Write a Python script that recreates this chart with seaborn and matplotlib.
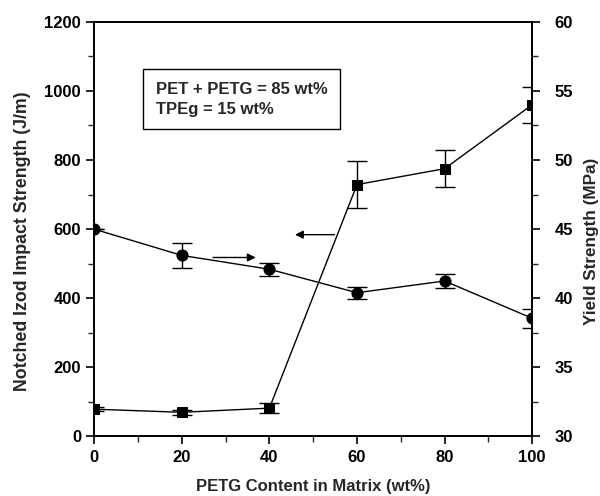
import matplotlib
matplotlib.use("Agg")
import matplotlib.pyplot as plt
import seaborn as sns
import numpy as np
import pandas as pd

petg = [0, 20, 40, 60, 80, 100]
impact = [79, 70, 82, 729, 775, 960]
impact_err = [6, 8, 15, 68, 54, 52]
yield_strength = [45.0, 43.1, 42.1, 40.4, 41.25, 38.55]
yield_err = [0.0, 0.9, 0.46, 0.42, 0.5, 0.67]

sns.set_theme(style="ticks")
plt.rcParams['font.family'] = ['Liberation Sans', 'DejaVu Sans']
plt.rcParams['font.weight'] = 'bold'

fig = plt.figure(figsize=(6, 4.96), dpi=100)
ax = fig.add_axes([0.157, 0.12, 0.73, 0.836])
ax2 = ax.twinx()

df = pd.DataFrame({"x": petg, "impact": impact, "ys": yield_strength})

sns.lineplot(data=df, x="x", y="impact", ax=ax, color="black", marker="s",
             markersize=7, linewidth=1.0, markeredgecolor="black")
ax.errorbar(petg, impact, yerr=impact_err, fmt="none", ecolor="black",
            elinewidth=1.0, capsize=7, capthick=1.0)

sns.lineplot(data=df, x="x", y="ys", ax=ax2, color="black", marker="o",
             markersize=8, linewidth=1.0, markeredgecolor="black")
ax2.errorbar(petg, yield_strength, yerr=yield_err, fmt="none", ecolor="black",
             elinewidth=1.0, capsize=7, capthick=1.0)

ax.set_xlim(0, 100)
ax.set_ylim(0, 1200)
ax2.set_ylim(30, 60)
ax.set_xticks([0, 20, 40, 60, 80, 100])
ax.set_xticks(np.arange(10, 100, 20), minor=True)
ax.set_yticks(np.arange(0, 1201, 200))
ax.set_yticks(np.arange(100, 1200, 200), minor=True)
ax2.set_yticks(np.arange(30, 61, 5))
ax2.set_yticks(np.arange(32.5, 60, 5), minor=True)

for a in (ax, ax2):
    a.tick_params(which="major", direction="out", length=6, width=1.2,
                  labelsize=12, colors="black")
    a.tick_params(which="minor", direction="out", length=4, width=1.0)
    for s in a.spines.values():
        s.set_linewidth(1.3)
        s.set_color("black")
ax2.tick_params(axis="y", pad=10)

for lab in ax.get_xticklabels() + ax.get_yticklabels() + ax2.get_yticklabels():
    lab.set_fontweight("bold")

ax.set_xlabel("PETG Content in Matrix (wt%)", fontsize=12, fontweight="bold", labelpad=10)
ax.set_ylabel("Notched Izod Impact Strength (J/m)", fontsize=12.8, fontweight="bold")
ax.yaxis.set_label_coords(-0.145, 0.47)
ax2.set_ylabel("Yield Strength (MPa)", fontsize=12.3, fontweight="bold")
ax2.yaxis.set_label_coords(1.119, 0.47)

ax.text(0.14, 0.855, "PET + PETG = 85 wt%\nTPEg = 15 wt%", transform=ax.transAxes,
        fontsize=12, fontweight="bold", va="top", ha="left", linespacing=1.4,
        bbox=dict(boxstyle="square,pad=0.75", facecolor="white", edgecolor="black", linewidth=1.0))

# arrows indicating axes
ax.annotate("", xy=(37.5, 518), xytext=(26.5, 518),
            arrowprops=dict(arrowstyle="-|>", color="black", lw=1.0, mutation_scale=12))
ax.annotate("", xy=(45.2, 584), xytext=(55.5, 584),
            arrowprops=dict(arrowstyle="-|>", color="black", lw=1.0, mutation_scale=12))

fig.savefig("out.png", dpi=100)
